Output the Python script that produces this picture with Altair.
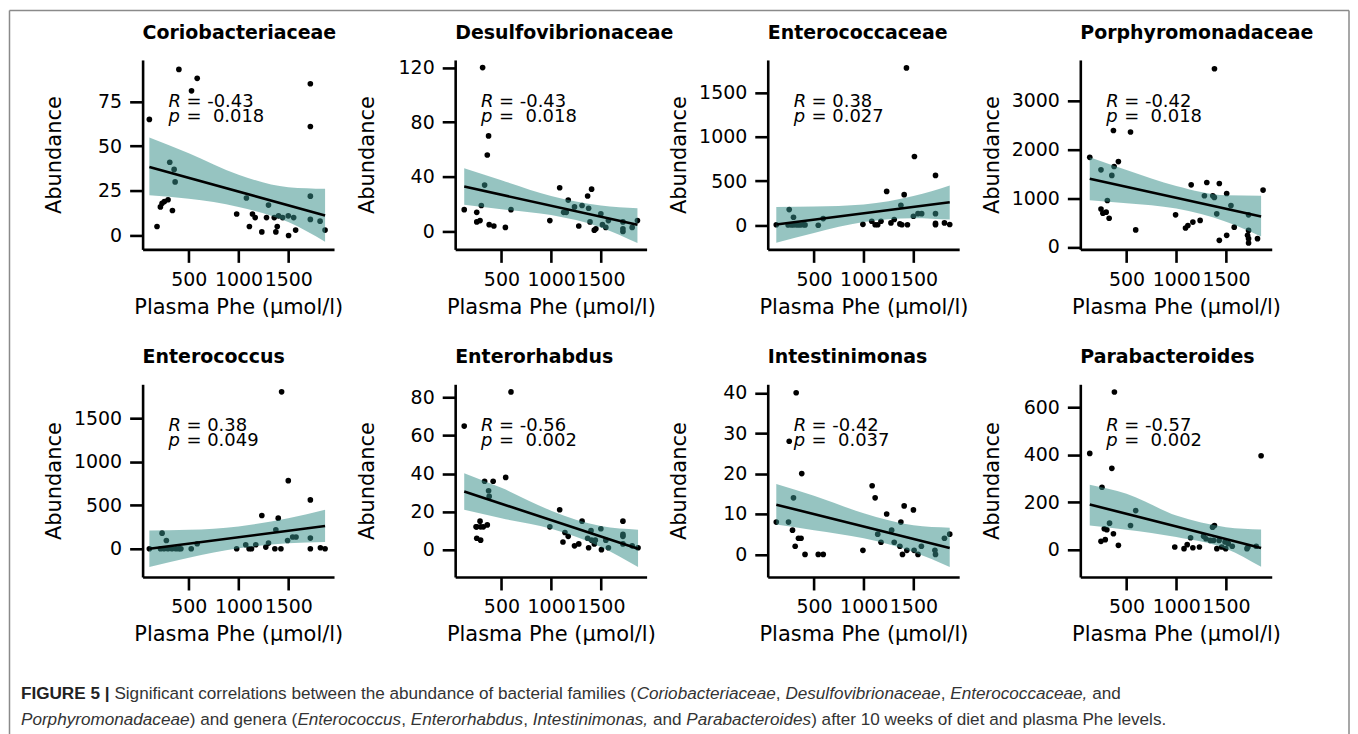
import altair as alt
import pandas as pd

# ---------------- data ----------------
panel_names = ["Coriobacteriaceae", "Desulfovibrionaceae", "Enterococcaceae", "Porphyromonadaceae",
               "Enterococcus", "Enterorhabdus", "Intestinimonas", "Parabacteroides"]

coriob_x = [103, 400, 527, 584, 214, 231, 254, 291, 308, 352, 362, 335, 180, 981, 1079, 1109, 1140, 1167,
            1234, 1281, 1301, 1375, 1389, 1359, 1402, 1443, 1500, 1554, 1503, 1574, 1722, 1722, 1722, 1722, 1820, 1870]
coriob_y = [65, 93, 81, 88, 16, 18, 19, 20, 41, 37, 30, 14, 5, 12, 21, 5, 12, 10,
            2, 10, 17, 2, 5, 10, 11, 10, 11, 10, 0, 3, 85, 61, 22, 9, 8, 3]

desulf_x = [126, 311, 371, 358, 331, 298, 252, 252, 285, 377, 424, 540, 596, 987, 1086, 1126, 1152, 1172,
            1235, 1278, 1311, 1367, 1377, 1407, 1391, 1434, 1450, 1500, 1516, 1550, 1576, 1722, 1722, 1722, 1815, 1868]
desulf_y = [16, 120, 70, 56, 34, 19, 14, 7, 8, 5, 4, 3, 16, 8, 32, 14, 14, 23,
            18, 4, 19, 26, 17, 31, 7, 1, 2, 13, 5, 3, 8, 7, 2, 0, 3, 8]

enterocc_fam_x = [121, 251, 294, 240, 275, 300, 330, 360, 390, 410, 543, 593, 992, 1081, 1115, 1141, 1174, 1231,
                  1274, 1307, 1364, 1407, 1374, 1384, 1430, 1440, 1510, 1500, 1546, 1583, 1722, 1722, 1722, 1722, 1812, 1865]
enterocc_fam_y = [5, 177, 90, 3, 2, 4, 3, 2, 5, 3, 0, 75, 10, 45, 5, 5, 45, 383,
                  26, 64, 15, 346, 225, 5, 1782, 5, 778, 101, 131, 131, 564, 131, 5, 20, 26, 8]

porphyro_x = [130, 243, 307, 352, 368, 375, 418, 243, 262, 295, 325, 592, 540, 993, 1093, 1117, 1150, 1167, 1240,
              1283, 1307, 1367, 1383, 1384, 1407, 1433, 1433, 1507, 1507, 1550, 1583, 1717, 1727, 1727, 1727, 1727, 1817, 1873]
porphyro_y = [1840, 1584, 955, 1470, 2393, 1652, 1753, 780, 694, 715, 590, 350, 2360, 659, 390, 440, 1276, 510, 545,
              1052, 1323, 1052, 1018, 3661, 680, 1303, 136, 1099, 238, 849, 407, 238, 659, 340, 171, 81, 171, 1168]

enterococcus_x = [103, 231, 274, 215, 250, 290, 330, 370, 400, 420, 524, 584, 981, 1072, 1106, 1130, 1173, 1234,
                  1274, 1301, 1365, 1375, 1399, 1426, 1433, 1500, 1493, 1544, 1578, 1722, 1722, 1722, 1823, 1870]
enterococcus_y = [0, 179, 95, 0, 0, 0, 0, 0, 0, 0, 0, 57, 0, 46, 0, 0, 46, 382,
                  19, 65, 0, 218, 351, 0, 1802, 782, 95, 134, 134, 561, 122, 0, 11, 0]

enterorh_x = [126, 596, 543, 331, 417, 371, 377, 245, 285, 252, 291, 318, 358, 252, 291, 987, 1086, 1119, 1139, 1172,
              1235, 1278, 1311, 1367, 1377, 1401, 1407, 1434, 1444, 1500, 1506, 1550, 1576, 1722, 1722, 1722, 1722, 1815, 1874]
enterorh_y = [65, 83, 38, 36, 36, 31, 28, 12, 15, 12, 12, 12, 13, 6, 5, 12, 21, 4, 9, 7,
              2, 3, 15, 6, 1, 10, 5, 3, 5, 11, 0, 5, 1, 15, 8, 7, 3, 2, 1]

intestin_x = [121, 244, 251, 321, 294, 284, 311, 344, 370, 377, 410, 543, 593, 992, 1085, 1115, 1141, 1174, 1231,
              1281, 1307, 1364, 1374, 1390, 1407, 1434, 1500, 1507, 1546, 1580, 1716, 1722, 1812, 1865]
intestin_y = [8, 8, 28, 40, 14, 6, 2, 4, 4, 20, 0, 0, 0, 1, 17, 14, 5, 3, 10,
              6, 3, 2, 8, 0, 12, 1, 11, 1, 0, 2, 1, 0, 4, 5]

parabact_x = [130, 253, 352, 378, 243, 286, 276, 302, 329, 368, 418, 540, 592, 985, 1078, 1110, 1144, 1167, 1233,
              1275, 1299, 1342, 1365, 1384, 1375, 1408, 1431, 1457, 1490, 1497, 1523, 1563, 1711, 1721, 1804, 1853]
parabact_y = [406, 263, 343, 666, 34, 41, 87, 83, 111, 66, 17, 101, 164, 10, 3, 20, 49, 7, 10,
              56, 45, 38, 94, 101, 38, 3, 38, 10, 31, 3, 24, 13, 3, 10, 13, 396]

# fitted line end points and confidence band
coriob_fit_x = [103, 1870];     coriob_fit_y = [38.3, 11.2]
coriob_band_x = [103, 500, 1000, 1500, 1870]
coriob_band_hi = [54.9, 46, 34, 27, 26.1];      coriob_band_lo = [22.5, 20.5, 16, 7.5, -3.5]

desulf_fit_x = [126, 1868];     desulf_fit_y = [32.9, 4.9]
desulf_band_x = [126, 500, 1000, 1500, 1868]
desulf_band_hi = [46.3, 37.5, 26, 19, 17];      desulf_band_lo = [19.5, 16.3, 12, 3, -8.5]

enterocc_fam_fit_x = [121, 1865];   enterocc_fam_fit_y = [8, 259]
enterocc_fam_band_x = [121, 500, 1000, 1500, 1865]
enterocc_fam_band_hi = [207, 212, 235, 330, 451];  enterocc_fam_band_lo = [-199, -87, 35, 80, 64]

porphyro_fit_x = [130, 1853];   porphyro_fit_y = [1400, 625]
porphyro_band_x = [130, 500, 1000, 1500, 1853]
porphyro_band_hi = [1840, 1580, 1250, 1060, 1052];  porphyro_band_lo = [960, 900, 790, 520, 215]

enterococcus_fit_x = [103, 1870];   enterococcus_fit_y = [0, 260]
enterococcus_band_x = [103, 500, 1000, 1500, 1870]
enterococcus_band_hi = [210, 217, 256, 350, 447];  enterococcus_band_lo = [-210, -103, 4, 62, 76]

enterorh_fit_x = [126, 1874];   enterorh_fit_y = [30.6, 0.5]
enterorh_band_x = [126, 500, 1000, 1500, 1874]
enterorh_band_hi = [40.2, 32.5, 20.5, 12.4, 10.5];  enterorh_band_lo = [21, 16.5, 11, 1.4, -9.1]

intestin_fit_x = [121, 1865];   intestin_fit_y = [12.3, 1.6]
intestin_band_x = [121, 500, 1000, 1500, 1865]
intestin_band_hi = [17.4, 14.5, 10.2, 7.2, 6.6];  intestin_band_lo = [7.4, 6.0, 4.0, 0.6, -3.1]

parabact_fit_x = [130, 1853];   parabact_fit_y = [190, 6]
parabact_band_x = [130, 500, 1000, 1500, 1853]
parabact_band_hi = [273, 235, 143, 94, 84];  parabact_band_lo = [101, 83, 52, 3, -74]

r_labels = ["= -0.43", "= -0.43", "= 0.38", "= -0.42", "= 0.38", "= -0.56", "= -0.42", "= -0.57"]
p_labels = ["=\u00a0\u00a00.018", "=\u00a0\u00a00.018", "= 0.027", "=\u00a0\u00a00.018",
            "= 0.049", "=\u00a0\u00a00.002", "=\u00a0\u00a00.037", "=\u00a0\u00a00.002"]

x_ticks = [500, 1000, 1500]
y_ticks = [[0, 25, 50, 75], [0, 40, 80, 120], [0, 500, 1000, 1500], [0, 1000, 2000, 3000],
           [0, 500, 1000, 1500], [0, 20, 40, 60, 80], [0, 10, 20, 30, 40], [0, 200, 400, 600]]
y_domains = [[-7.8, 98.3], [-13.1, 125.6], [-274, 1872], [-50, 3841],
             [-325, 1889], [-14.4, 87], [-5.6, 42.1], [-117, 698.6]]
x_domain = [35, 1960]

caption_line1 = [("FIGURE 5 |", "bold"),
                 (" Significant correlations between the abundance of bacterial families (", "normal"),
                 ("Coriobacteriaceae", "italic"), (", ", "normal"),
                 ("Desulfovibrionaceae", "italic"), (", ", "normal"),
                 ("Enterococcaceae,", "italic"), (" and", "normal")]
caption_line2 = [("Porphyromonadaceae", "italic"), (") and genera (", "normal"),
                 ("Enterococcus", "italic"), (", ", "normal"),
                 ("Enterorhabdus", "italic"), (", ", "normal"),
                 ("Intestinimonas,", "italic"), (" and ", "normal"),
                 ("Parabacteroides", "italic"),
                 (") after 10 weeks of diet and plasma Phe levels.", "normal")]

# ---------------- styling ----------------
FONT = "DejaVu Sans"
CAP_FONT = "Liberation Sans"
CAP_FS = 17.2
BAND_COLOR = "#368e89"
ROW_H = [190, 193.3]
PANEL_W = 192
ROW2_TOP = 383.3

AR = dict(zip("abcdefghijklmnopqrstuvwxyz",
              [556, 556, 500, 556, 556, 278, 556, 556, 222, 222, 500, 222, 833, 556, 556, 556, 556, 333, 500, 278,
               556, 500, 722, 500, 500, 500]))
AR.update(dict(zip("ABCDEFGHIJKLMNOPQRSTUVWXYZ",
                   [667, 667, 722, 722, 667, 611, 778, 722, 278, 500, 667, 556, 833, 722, 778, 667, 778, 722, 667,
                    611, 722, 667, 944, 667, 667, 611])))
AR.update({" ": 278, ",": 278, ".": 278, "(": 333, ")": 333, "|": 260})
for d in "0123456789":
    AR[d] = 556
ARB = {"F": 611, "I": 278, "G": 778, "U": 722, "R": 722, "E": 667, " ": 278, "5": 556, "|": 280}


def text_w(s, style):
    tbl = ARB if style == "bold" else AR
    return sum(tbl.get(c, 556) for c in s) / 1000.0 * CAP_FS


one = pd.DataFrame({"k": [0]})


def txt(s, x, y, size=18, italic=False, bold=False, font=FONT, color="black", align="left"):
    return alt.Chart(one).mark_text(
        text=s, font=font, fontSize=size, fontStyle="italic" if italic else "normal",
        fontWeight="bold" if bold else "normal", align=align, baseline="middle", color=color
    ).encode(x=alt.value(x), y=alt.value(y))


def caption_layers(lines, x0, y_list):
    out = []
    for segs, yy in zip(lines, y_list):
        cur = x0
        for s, style in segs:
            lead = len(s) - len(s.lstrip(" "))
            out.append(txt(s.strip(" "), cur + lead * 0.278 * CAP_FS, yy, size=CAP_FS,
                           italic=(style == "italic"), bold=(style == "bold"), font=CAP_FONT,
                           color="#222222" if style == "bold" else "#333333"))
            cur += text_w(s, style)
    return out


all_x = [coriob_x, desulf_x, enterocc_fam_x, porphyro_x, enterococcus_x, enterorh_x, intestin_x, parabact_x]
all_y = [coriob_y, desulf_y, enterocc_fam_y, porphyro_y, enterococcus_y, enterorh_y, intestin_y, parabact_y]
all_fx = [coriob_fit_x, desulf_fit_x, enterocc_fam_fit_x, porphyro_fit_x, enterococcus_fit_x, enterorh_fit_x,
          intestin_fit_x, parabact_fit_x]
all_fy = [coriob_fit_y, desulf_fit_y, enterocc_fam_fit_y, porphyro_fit_y, enterococcus_fit_y, enterorh_fit_y,
          intestin_fit_y, parabact_fit_y]
all_bx = [coriob_band_x, desulf_band_x, enterocc_fam_band_x, porphyro_band_x, enterococcus_band_x,
          enterorh_band_x, intestin_band_x, parabact_band_x]
all_hi = [coriob_band_hi, desulf_band_hi, enterocc_fam_band_hi, porphyro_band_hi, enterococcus_band_hi,
          enterorh_band_hi, intestin_band_hi, parabact_band_hi]
all_lo = [coriob_band_lo, desulf_band_lo, enterocc_fam_band_lo, porphyro_band_lo, enterococcus_band_lo,
          enterorh_band_lo, intestin_band_lo, parabact_band_lo]

panels = []
for i, name in enumerate(panel_names):
    h = ROW_H[i // 4]
    pts = pd.DataFrame({"x": all_x[i], "y": all_y[i]})
    band = pd.DataFrame({"x": all_bx[i], "lo": all_lo[i], "hi": all_hi[i]})
    fit = pd.DataFrame({"x": all_fx[i], "y": all_fy[i]})
    xenc = alt.X("x:Q", scale=alt.Scale(domain=x_domain, nice=False, zero=False),
                 axis=alt.Axis(values=x_ticks, title="Plasma Phe (μmol/l)", format="d",
                               labelOverlap=False, labelFlush=False))
    ysc = alt.Scale(domain=y_domains[i], nice=False, zero=False)
    yax = alt.Axis(values=y_ticks[i], title="Abundance", format="d", labelOverlap=False, labelFlush=False)

    p = alt.Chart(pts).mark_circle(size=32, color="black", opacity=1).encode(
        x=xenc, y=alt.Y("y:Q", scale=ysc, axis=yax))
    b = alt.Chart(band).mark_area(color=BAND_COLOR, opacity=0.52, interpolate="monotone").encode(
        x=xenc, y=alt.Y("hi:Q", scale=ysc, axis=yax), y2="lo:Q")
    ln = alt.Chart(fit).mark_line(color="black", strokeWidth=2.6).encode(
        x=xenc, y=alt.Y("y:Q", scale=ysc, axis=yax))
    layers = [p, b, ln,
              txt("R", 26, 42, italic=True), txt(r_labels[i], 44, 42),
              txt("p", 26, 57, italic=True), txt(p_labels[i], 44, 57),
              txt(name, 0, -27, size=19, bold=True, align="left")]
    if i == 0:
        bc = "#8a8a8a"
        layers += [
            alt.Chart(one).mark_rule(color=bc, strokeWidth=1.5).encode(
                x=alt.value(-133.5), x2=alt.value(1210), y=alt.value(-49.5)),
            alt.Chart(one).mark_rule(color=bc, strokeWidth=1.5).encode(
                x=alt.value(-133.5), y=alt.value(-49.5), y2=alt.value(690)),
            alt.Chart(one).mark_rule(color=bc, strokeWidth=1.5).encode(
                x=alt.value(1210), y=alt.value(-49.5), y2=alt.value(690)),
        ]
    if i == 4:
        layers += caption_layers([caption_line1, caption_line2], 20 - 142, [694 - ROW2_TOP, 720 - ROW2_TOP])
    panel = alt.layer(*layers).properties(width=PANEL_W, height=h)
    panels.append(panel)

chart = alt.concat(*panels, columns=4, spacing={"row": 135.3, "column": 121.5}, bounds="flush").properties(
    padding=0, background="white"
).configure_axis(
    domainColor="black", domainWidth=2.6, tickColor="black", tickWidth=2.6, tickSize=13,
    labelPadding=8, labelFont=FONT, labelFontSize=19, labelColor="black",
    titleFont=FONT, titleFontSize=21, titleFontWeight="normal", titleColor="black", grid=False
).configure_axisY(minExtent=60, maxExtent=60, titlePadding=18
).configure_axisX(titlePadding=7
).configure_view(stroke=None)

chart.save("out.html", embed_options={"renderer": "svg", "actions": False})
